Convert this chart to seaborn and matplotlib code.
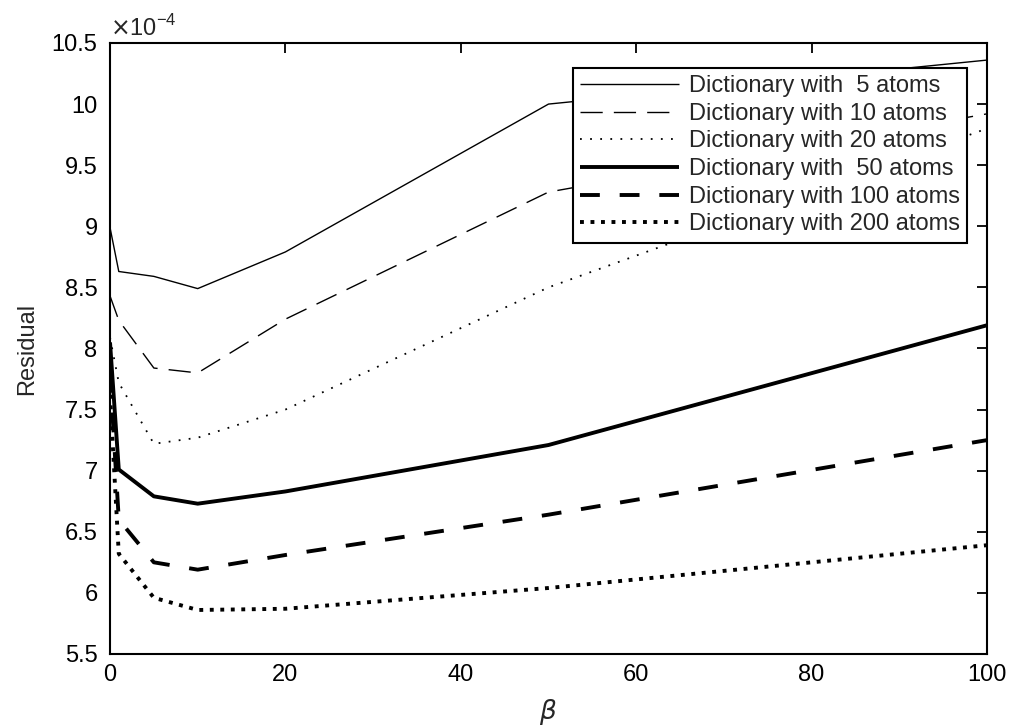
import matplotlib
matplotlib.use("Agg")
import matplotlib.pyplot as plt
import seaborn as sns
import pandas as pd

# Regularisation weight beta and the residual (in units of 1e-4) per dictionary size
beta = [0, 1, 5, 10, 20, 50, 100]
res_5 = [8.99, 8.63, 8.59, 8.49, 8.79, 10.00, 10.36]
res_10 = [8.43, 8.23, 7.84, 7.80, 8.24, 9.28, 9.92]
res_20 = [8.09, 7.72, 7.22, 7.27, 7.50, 8.50, 9.80]
res_50 = [8.05, 7.01, 6.79, 6.73, 6.83, 7.21, 8.19]
res_100 = [7.80, 6.60, 6.25, 6.19, 6.31, 6.64, 7.25]
res_200 = [7.62, 6.32, 5.96, 5.86, 5.87, 6.04, 6.39]

labels = [
    "Dictionary with  5 atoms",
    "Dictionary with 10 atoms",
    "Dictionary with 20 atoms",
    "Dictionary with  50 atoms",
    "Dictionary with 100 atoms",
    "Dictionary with 200 atoms",
]
series = [res_5, res_10, res_20, res_50, res_100, res_200]

x_ticks = [0, 20, 40, 60, 80, 100]
y_ticks = [5.5, 6, 6.5, 7, 7.5, 8, 8.5, 9, 9.5, 10, 10.5]

sns.set_theme(style="white")
plt.rcParams["font.family"] = ["Liberation Sans", "DejaVu Sans"]
plt.rcParams["mathtext.fontset"] = "dejavusans"

styles = [
    dict(lw=1.0, ls="-"),
    dict(lw=1.0, ls=(0, (16, 8))),
    dict(lw=1.3, ls=(0, (1, 4.6))),
    dict(lw=2.8, ls="-"),
    dict(lw=2.8, ls=(0, (5.1, 5.1))),
    dict(lw=2.8, ls=(0, (1, 1.7))),
]

fig = plt.figure(figsize=(10.13, 7.26), dpi=100)
ax = fig.add_axes([0.1086, 0.0992, 0.8657, 0.8416])

for lab, vals, st in zip(labels, series, styles):
    df = pd.DataFrame({"beta": beta, "residual": vals})
    sns.lineplot(data=df, x="beta", y="residual", ax=ax, color="black",
                 linewidth=st["lw"], linestyle=st["ls"], label=lab,
                 solid_capstyle="butt", dash_capstyle="butt")

ax.set_xlim(0, 100)
ax.set_ylim(5.5, 10.5)
ax.set_xticks(x_ticks)
ax.set_yticks(y_ticks)
ax.set_yticklabels([f"{v:g}" for v in y_ticks])
ax.set_xticklabels([f"{v:g}" for v in x_ticks])
ax.tick_params(direction="in", length=7, width=1.3, top=True, right=True,
               labelsize=17, colors="black")
ax.tick_params(axis="y", pad=9)
ax.tick_params(axis="x", pad=7)
for sp in ax.spines.values():
    sp.set_visible(True)
    sp.set_color("black")
    sp.set_linewidth(1.5)

ax.set_xlabel(r"$\beta$", fontsize=19, labelpad=8)
ax.set_ylabel("Residual", fontsize=17, labelpad=10)
ax.text(0.0, 1.004, r"$\times$10$^{\mathregular{-4}}$", transform=ax.transAxes,
        fontsize=17, ha="left", va="bottom")

leg = ax.legend(loc="upper right", bbox_to_anchor=(0.977, 0.959), fontsize=17,
                frameon=True, fancybox=False, framealpha=1, edgecolor="black",
                handlelength=4.2, handletextpad=0.4, borderpad=0.3,
                labelspacing=0.24, borderaxespad=0)
leg.get_frame().set_linewidth(1.5)

fig.savefig("out.png", dpi=100, facecolor="white")
